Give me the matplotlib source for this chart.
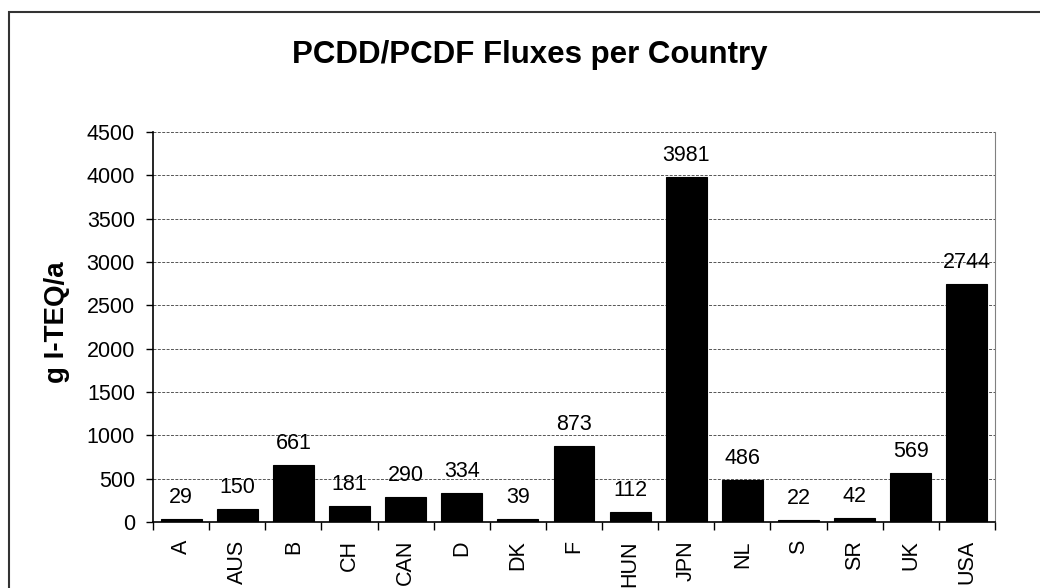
import matplotlib
matplotlib.use('Agg')
import matplotlib.pyplot as plt
from matplotlib.patches import Rectangle
import numpy as np

plt.rcParams['font.family'] = ['Liberation Sans', 'DejaVu Sans']

countries = ['A', 'AUS', 'B', 'CH', 'CAN', 'D', 'DK', 'F', 'HUN', 'JPN',
             'NL', 'S', 'SR', 'UK', 'USA']
fluxes = [29, 150, 661, 181, 290, 334, 39, 873, 112, 3981, 486, 22, 42, 569, 2744]
yticks = [0, 500, 1000, 1500, 2000, 2500, 3000, 3500, 4000, 4500]

fig = plt.figure(figsize=(10.4, 5.88), dpi=100)
# outer chart border (runs off the right/bottom edge as in the reference)
fig.patches.append(Rectangle((9 / 1040, -0.05), 1.1, 1 - 12 / 588 + 0.05,
                             transform=fig.transFigure, fill=False,
                             edgecolor='#333333', linewidth=1.5))

ax = fig.add_axes([153 / 1040, 1 - 522 / 588, 842 / 1040, 390 / 588])
x = np.arange(len(countries))
ax.bar(x, fluxes, width=0.73, color='black', edgecolor='black', linewidth=0.8, zorder=3)

for xi, v in zip(x, fluxes):
    ax.annotate(str(v), (xi, v), xytext=(0, 8), textcoords='offset points',
                ha='center', va='bottom', fontsize=15.5)

ax.set_xlim(-0.5, len(countries) - 0.5)
ax.set_ylim(0, 4500)
ax.set_yticks(yticks)
ax.tick_params(axis='y', labelsize=15.5, length=5, direction='out', width=1, pad=8)
ax.set_xticks(x)
ax.set_xticklabels(countries, rotation=90, fontsize=15.5)
ax.tick_params(axis='x', which='major', length=0, pad=13)
ax.set_xticks(np.arange(-0.5, len(countries)), minor=True)
ax.tick_params(axis='x', which='minor', length=6, width=1, direction='out')

ax.yaxis.grid(True, linestyle=(0, (3, 1.5)), color='#555555', linewidth=0.7, zorder=0)
ax.set_axisbelow(True)
ax.spines['top'].set_visible(False)
ax.spines['right'].set_color('#808080')
ax.spines['left'].set_linewidth(1.2)
ax.spines['bottom'].set_linewidth(1.2)

fig.text(57 / 1040, 1 - 322 / 588, 'g I-TEQ/a', rotation=90, ha='center', va='center',
         fontsize=20, fontweight='bold')
fig.text(530 / 1040, 1 - 63 / 588, 'PCDD/PCDF Fluxes per Country', ha='center',
         va='baseline', fontsize=22.5, fontweight='bold')

fig.savefig('out.png', dpi=100)
